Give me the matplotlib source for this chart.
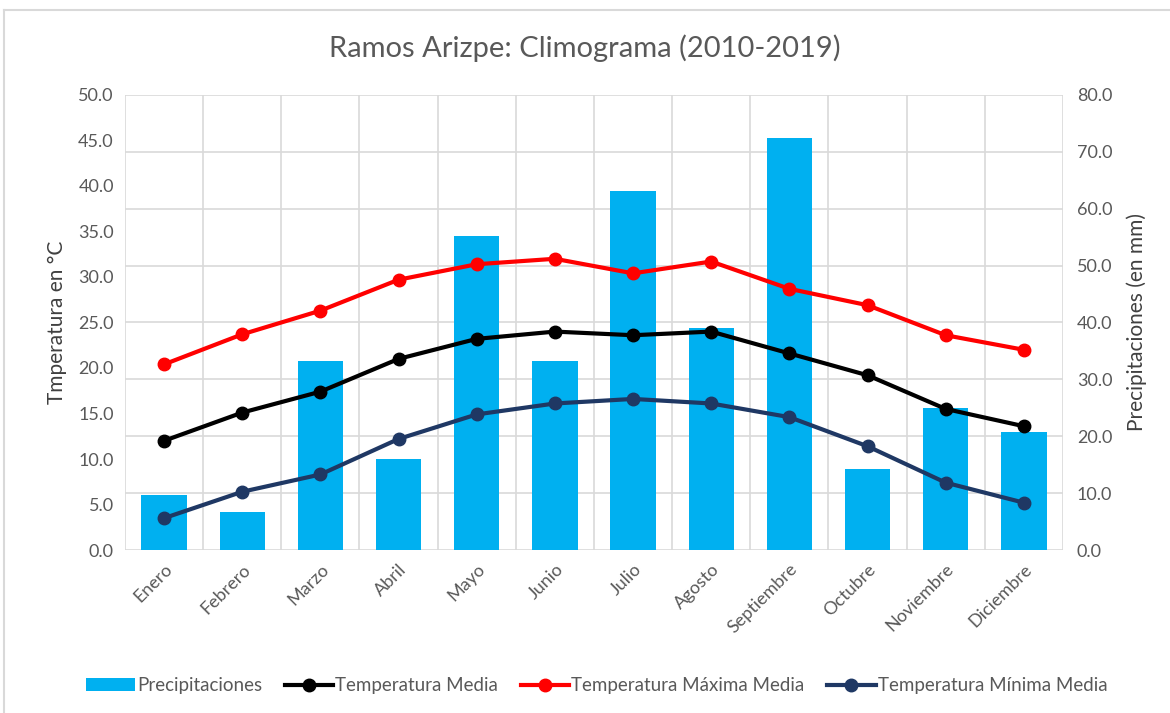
import matplotlib.pyplot as plt
import numpy as np

plt.rcParams['font.family'] = ['Lato', 'DejaVu Sans']

meses = ["Enero", "Febrero", "Marzo", "Abril", "Mayo", "Junio", "Julio",
         "Agosto", "Septiembre", "Octubre", "Noviembre", "Diciembre"]
precipitaciones = [9.7, 6.7, 33.2, 16.0, 55.2, 33.2, 63.1, 39.0, 72.4, 14.2, 25.0, 20.7]
temp_media = [12.0, 15.1, 17.4, 21.0, 23.2, 24.0, 23.6, 24.0, 21.6, 19.2, 15.5, 13.6]
temp_max = [20.4, 23.7, 26.3, 29.7, 31.4, 32.0, 30.4, 31.7, 28.7, 26.9, 23.6, 22.0]
temp_min = [3.5, 6.4, 8.3, 12.2, 14.9, 16.1, 16.6, 16.1, 14.6, 11.4, 7.4, 5.2]

gris = "#595959"
x = np.arange(len(meses))

fig = plt.figure(figsize=(11.7, 7.13), dpi=100)
ax = fig.add_axes([0.1068, 0.2286, 0.8017, 0.6382])
ax2 = ax.twinx()

# barras en el eje derecho, lineas en el izquierdo
ax2.bar(x, precipitaciones, width=0.58, color="#00B0F0", label="Precipitaciones", zorder=1)
ax.set_zorder(ax2.get_zorder() + 1)
ax.patch.set_visible(False)

ax.plot(x, temp_media, color="black", lw=3, marker="o", ms=9, label="Temperatura Media")
ax.plot(x, temp_max, color="#FF0000", lw=3, marker="o", ms=9, label="Temperatura Máxima Media")
ax.plot(x, temp_min, color="#1F3864", lw=3, marker="o", ms=9, label="Temperatura Mínima Media")

ax.set_xlim(-0.5, 11.5)
ax.set_ylim(0, 50)
ax2.set_ylim(0, 80)
ax.set_yticks(np.arange(0, 50.1, 5))
ax2.set_yticks(np.arange(0, 80.1, 10))
ax.set_yticklabels([f"{v:.1f}" for v in np.arange(0, 50.1, 5)])
ax2.set_yticklabels([f"{v:.1f}" for v in np.arange(0, 80.1, 10)])
ax.set_xticks(x)
ax.set_xticklabels(meses, rotation=45, ha="right", rotation_mode="anchor")

# rejilla: horizontales y separadores de categorias
ax2.grid(axis="y", color="#D9D9D9", lw=1.2, zorder=0)
ax2.set_axisbelow(True)
for b in np.arange(-0.5, 12, 1):
    ax2.axvline(b, color="#D9D9D9", lw=1.2, zorder=0)

for a in (ax, ax2):
    for s in a.spines.values():
        s.set_visible(False)
    a.tick_params(length=0, labelsize=13, colors=gris)
ax.tick_params(axis="x", pad=8)
ax.tick_params(axis="y", pad=8)
ax2.tick_params(axis="y", pad=10)

ax.set_ylabel("Tmperatura en °C", fontsize=15, color="#404040", labelpad=8)
ax2.set_ylabel("Precipitaciones (en mm)", fontsize=15, color="#404040", labelpad=10)
fig.suptitle("Ramos Arizpe: Climograma (2010-2019)", y=0.933, va="center",
             fontsize=21, color=gris)

h2, l2 = ax2.get_legend_handles_labels()
h1, l1 = ax.get_legend_handles_labels()
fig.legend(h2 + h1, l2 + l1, loc="center", bbox_to_anchor=(0.51, 0.038), ncol=4,
           frameon=False, fontsize=13.5, labelcolor=gris, handlelength=2.6,
           handletextpad=0.1, columnspacing=1.2)

# marco del grafico
fig.add_artist(plt.Line2D([0.0035, 0.0035], [0, 0.986], color="#D9D9D9", lw=1.5))
fig.add_artist(plt.Line2D([0.0035, 1], [0.986, 0.986], color="#D9D9D9", lw=1.5))

fig.savefig("out.png", dpi=100)
